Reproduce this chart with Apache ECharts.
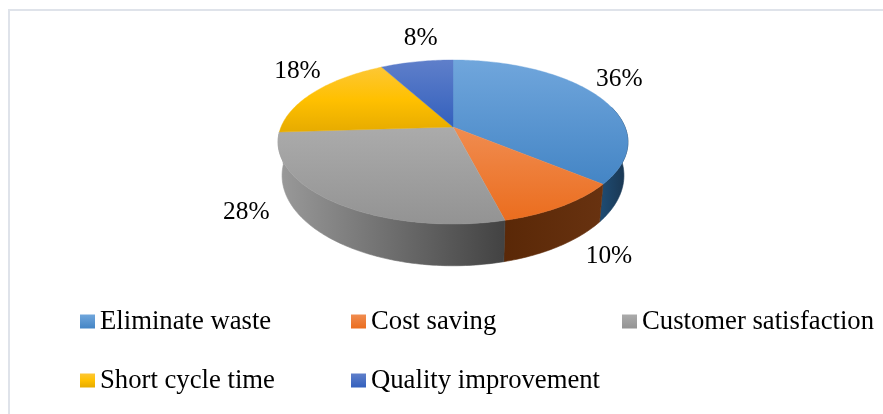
<!DOCTYPE html>
<html>
<head>
<meta charset="utf-8">
<style>html,body{margin:0;padding:0;background:#fff}#c{width:883px;height:414px}</style>
<script src="https://cdn.jsdelivr.net/npm/echarts@6/dist/echarts.min.js"></script>
</head>
<body>
<div id="c"></div>
<script>
const categories = ['Eliminate waste', 'Cost saving', 'Customer satisfaction', 'Short cycle time', 'Quality improvement'];
const values = [36, 10, 28, 18, 8];

const labelOffsets = [[22, -16], [47, 50], [-88, 10], [-17, -21], [4, -23]];
const legendSpots = [[80, 314], [351, 314], [622, 314], [80, 373], [351, 373]];
const topStops = [
  ['#70a6dc', '#4485c5'],
  ['#f08c50', '#eb6d1e'],
  ['#ababab', '#939393'],
  ['#fdc735', '#ffc000', '#e6ab00'],
  ['#5f7fca', '#3360bd']
];
const wallStops = [
  ['#1f4d75', '#19344e'],
  ['#5a2807', '#683210'],
  ['#9a9a9a', '#424242'],
  null,
  null
];

const FONT = '"Liberation Serif", "Times New Roman", serif';
const HUB = [453, 127];
const AX = 172, BY = 79.3, K = 0.183;

// Perspective projection of a unit-circle angle (degrees clockwise from 12 o'clock).
function project(deg) {
  const t = deg * Math.PI / 180;
  const s = Math.sin(t), c = Math.cos(t);
  const den = 1 + K * c;
  return [AX * s / den, -BY * c / den];
}
const topPoint = deg => { const p = project(deg); return [HUB[0] + p[0], HUB[1] + p[1]]; };
const basePoint = deg => { const p = project(deg); return [HUB[0] + 0.977 * p[0], HUB[1] + 1.1 * p[1] + 32]; };

function arc(fn, a, b) {
  const pts = [], n = Math.max(2, Math.ceil(Math.abs(b - a)));
  for (let i = 0; i <= n; i++) pts.push(fn(a + (b - a) * i / n));
  return pts;
}

const total = values.reduce((s, v) => s + v, 0);
let acc = 0;
const spans = values.map(v => { const a = acc; acc += v; return [a / total * 360, acc / total * 360]; });

function grad(horizontal, stops) {
  return new echarts.graphic.LinearGradient(0, 0, horizontal ? 1 : 0, horizontal ? 0 : 1,
    stops.map((color, k) => ({ offset: k / (stops.length - 1), color: color })));
}

const series = categories.map((name, i) => ({
  type: 'custom',
  name: name,
  coordinateSystem: 'none',
  silent: true,
  animation: false,
  itemStyle: { color: grad(false, topStops[i]) },
  data: [values[i]],
  renderItem: function () {
    const [a, b] = spans[i];
    const children = [];
    if (wallStops[i]) {
      const wa = Math.max(a, 75), wb = Math.min(b, 285);
      const pts = arc(topPoint, wa, wb).concat(arc(basePoint, wb, wa));
      const wallFill = grad(true, wallStops[i]);
      children.push({
        type: 'polygon', z2: 1,
        shape: { points: pts },
        style: { fill: wallFill, stroke: wallFill, lineWidth: 0.6 }
      });
    }
    const topFill = grad(false, topStops[i]);
    children.push({
      type: 'polygon', z2: 2,
      shape: { points: [HUB].concat(arc(topPoint, a, b)) },
      style: { fill: topFill, stroke: topFill, lineWidth: 0.4 }
    });
    const rim = topPoint((a + b) / 2);
    children.push({
      type: 'text', z2: 3,
      style: {
        text: values[i] + '%',
        x: rim[0] + labelOffsets[i][0],
        y: rim[1] + labelOffsets[i][1],
        align: 'center', verticalAlign: 'middle',
        font: '25.4px ' + FONT, fill: '#000'
      }
    });
    return { type: 'group', children: children };
  }
}));

const chart = echarts.init(document.getElementById('c'), null, { renderer: 'canvas' });
chart.setOption({
  animation: false,
  backgroundColor: '#fff',
  graphic: [
    { type: 'rect', shape: { x: 8, y: 9, width: 875, height: 2 }, style: { fill: '#dfe3ea' }, silent: true },
    { type: 'rect', shape: { x: 8, y: 9, width: 2, height: 405 }, style: { fill: '#dfe3ea' }, silent: true }
  ],
  legend: categories.map((name, i) => ({
    data: [name],
    left: legendSpots[i][0],
    top: legendSpots[i][1] - 6,
    padding: 0,
    itemWidth: 15,
    itemHeight: 14,
    icon: 'rect',
    selectedMode: false,
    textStyle: { fontFamily: FONT, fontSize: 26.7, color: '#000' }
  })),
  series: series
});
</script>
</body>
</html>
